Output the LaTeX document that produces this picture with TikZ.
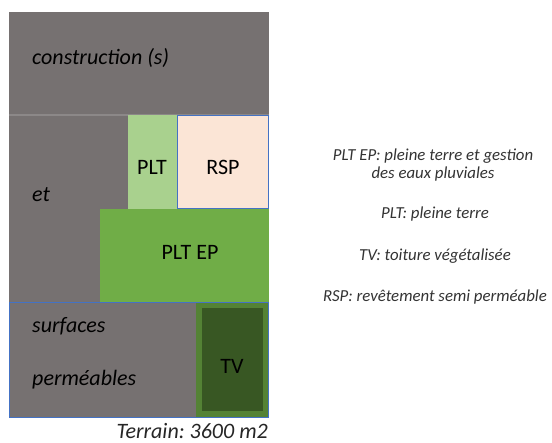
\documentclass[tikz,border=0pt]{standalone}
\usepackage{fontspec}
\setmainfont{Carlito}
\frenchspacing
\definecolor{grayfill}{RGB}{118,113,113}
\definecolor{pltgreen}{RGB}{169,209,142}
\definecolor{rspfill}{RGB}{251,229,214}
\definecolor{epgreen}{RGB}{112,173,71}
\definecolor{tvouter}{RGB}{84,130,53}
\definecolor{tvinner}{RGB}{56,87,35}
\definecolor{blueline}{RGB}{68,114,196}
\definecolor{sepline}{RGB}{140,136,136}
\tikzset{
  big/.style={font=\fontsize{22}{26}\selectfont, inner sep=1pt},
  bigit/.style={font=\fontsize{22}{26}\selectfont\itshape, inner sep=1pt},
  legend/.style={font=\fontsize{16.8}{18}\selectfont\itshape, text=black!80, align=center, inner sep=1pt},
}
\begin{document}
\begin{tikzpicture}[x=1pt,y=-1pt]
\useasboundingbox[fill=white] (0,0) rectangle (552,443);
% gray base
\fill[grayfill] (9,12) rectangle (269,418);
\draw[sepline, line width=1.2] (9,115) -- (269,115);
% row 2
\fill[pltgreen] (128,115) rectangle (177,209);
\filldraw[fill=rspfill, draw=blueline, line width=0.8] (177.4,115.4) rectangle (268.6,208.6);
% row 3
\fill[epgreen] (100,209) rectangle (269,302);
% row 4
\draw[blueline, line width=0.8] (9.4,302.4) rectangle (268.6,417.6);
\fill[tvouter] (196,303) rectangle (268,417);
\fill[tvinner] (202,308) rectangle (263,411);
% texts
\node[bigit, anchor=west] (cons) at (31,58) {construction (s)};
\node[bigit, anchor=west] (et) at (31,195) {et};
\node[big] (plt) at (152,167) {PLT};
\node[big] (rsp) at (223,167) {RSP};
\node[big] (ep) at (190,252) {PLT EP};
\node[bigit, anchor=west] (surf) at (31,326) {surfaces};
\node[bigit, anchor=west] (perm) at (31,380) {perméables};
\node[big] (tv) at (232,366) {TV};
\node[bigit, anchor=east, text=black!85, inner sep=0pt] (terr) at (268,431) {Terrain: 3600 m2};
% legend
\node[legend] (l1) at (433,165) {PLT EP: pleine terre et gestion\\des eaux pluviales};
\node[legend] (l2) at (435,214) {PLT: pleine terre};
\node[legend] (l3) at (435,256) {TV: toiture végétalisée};
\node[legend] (l4) at (435,297) {RSP: revêtement semi perméable};
\end{tikzpicture}
\end{document}
